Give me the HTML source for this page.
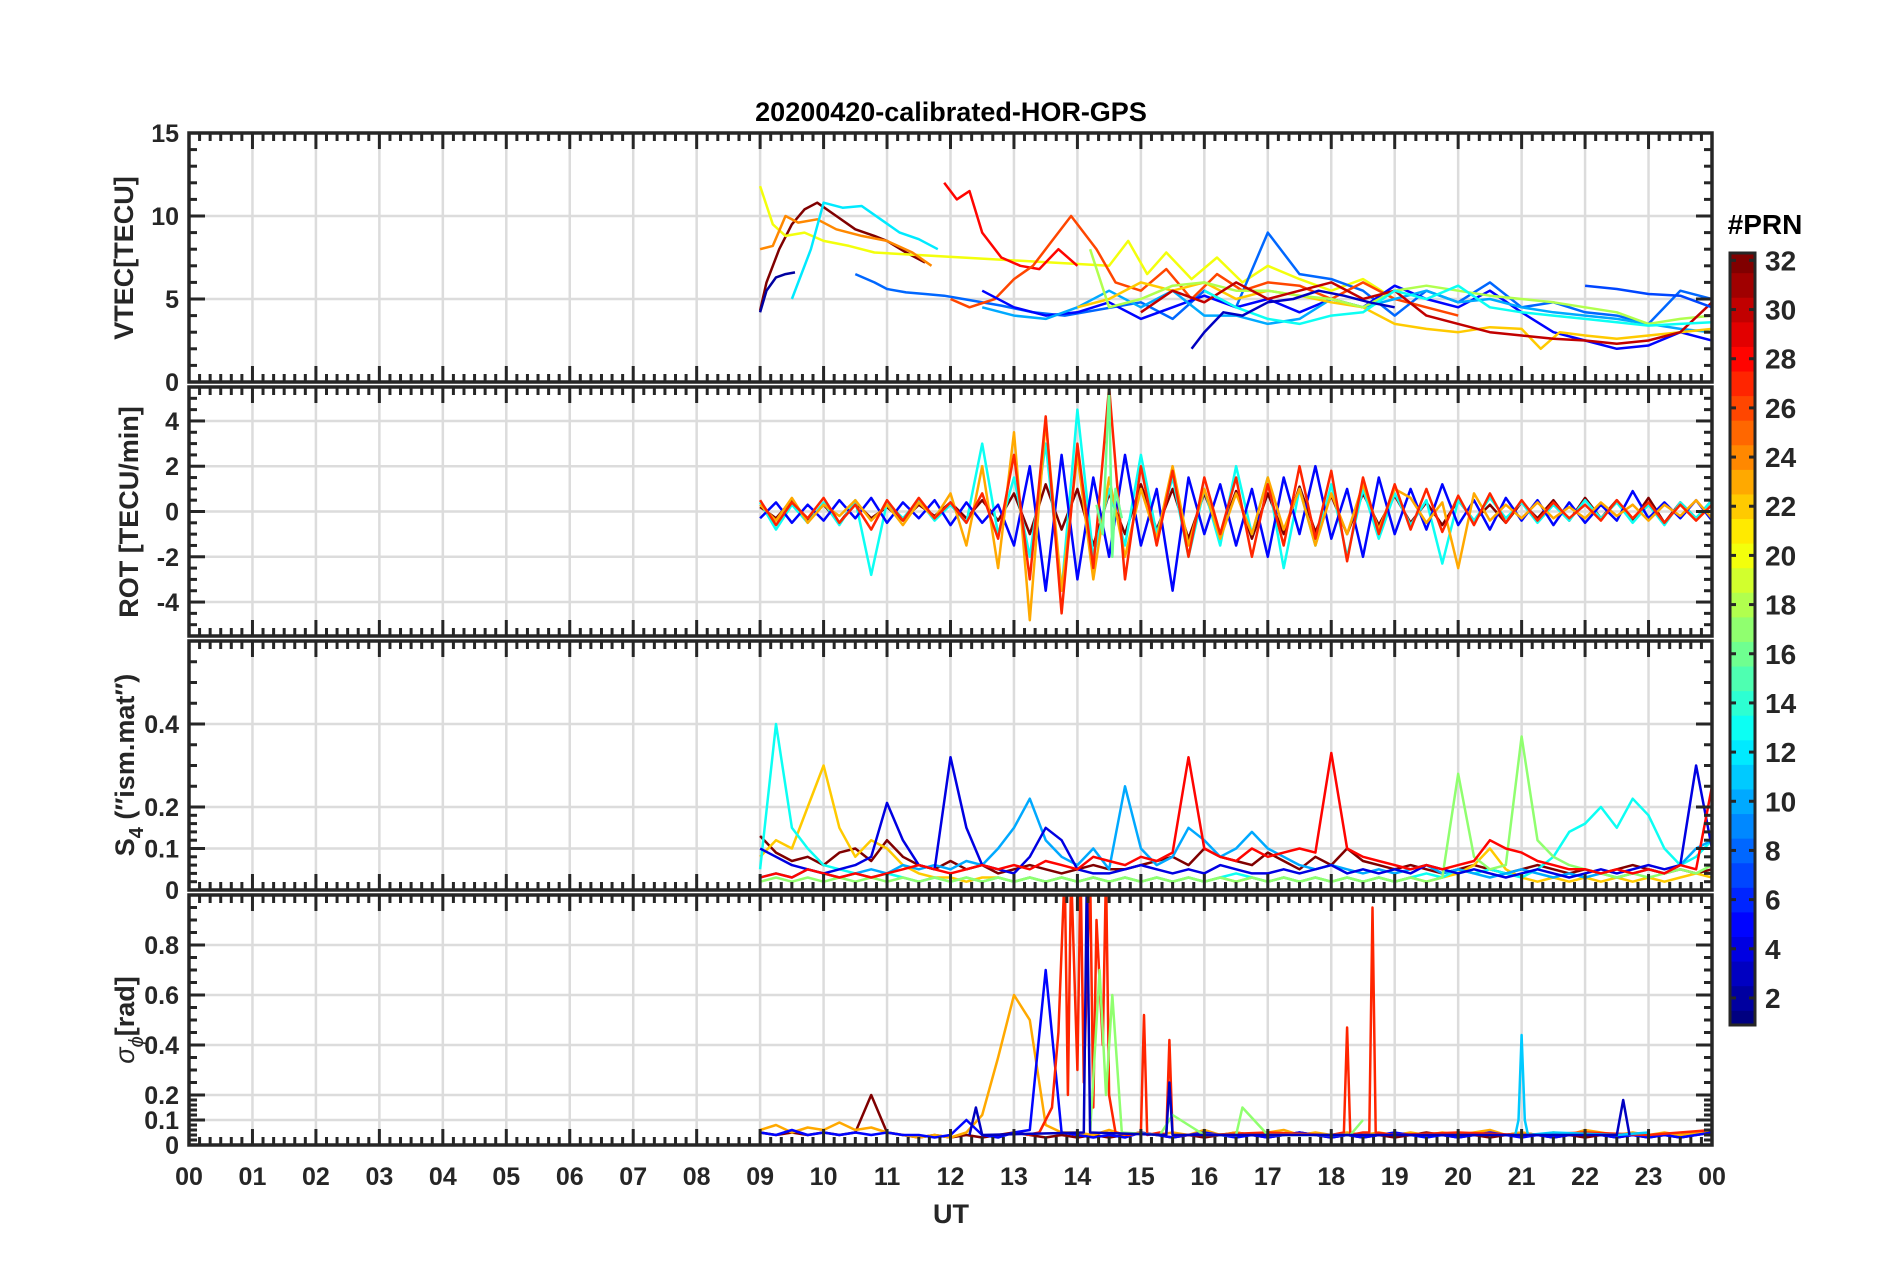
<!DOCTYPE html>
<html><head><meta charset="utf-8">
<style>
html,body{margin:0;padding:0;background:#fff;}
svg{display:block;}
text{font-family:"Liberation Sans",Arial,sans-serif;font-weight:bold;fill:#262626;}
</style></head>
<body>
<svg id="fig" width="1902" height="1272" viewBox="0 0 1902 1272" xmlns="http://www.w3.org/2000/svg">
<rect x="0" y="0" width="1902" height="1272" fill="#fff"/>
<text x="951" y="121" font-size="27" text-anchor="middle" style="fill:#000">20200420-calibrated-HOR-GPS</text>
<text x="951" y="1223" font-size="27" text-anchor="middle">UT</text>
<g id="layer"></g>
</svg>
<script>
// ---------- data ----------
const hourLabels = ["00","01","02","03","04","05","06","07","08","09","10","11","12","13","14","15","16","17","18","19","20","21","22","23","00"];
const colorbarLabels = [2,4,6,8,10,12,14,16,18,20,22,24,26,28,30,32];

// VTEC series (time in UT hours, value in TECU)
const vtecPrn = [32,20,24,12,2,8,28,26,5,10,22,18,30,7,13,3];
const vtecT32 = [9.0,9.1,9.3,9.5,9.7,9.9,10.2,10.5,10.8,11.0,11.3,11.6];
const vtecV32 = [4.3,6.0,8.0,9.5,10.4,10.8,10.0,9.2,8.8,8.5,7.8,7.2];
const vtecT20 = [9.0,9.2,9.4,9.7,10.0,10.4,10.8,14.5,14.8,15.1,15.4,15.8,16.2,16.6,17.0,17.5,18.0,18.5,19.0];
const vtecV20 = [11.8,9.5,8.8,9.0,8.5,8.2,7.8,7.0,8.5,6.5,7.8,6.2,7.5,6.0,7.0,6.2,5.5,6.2,5.0];
const vtecT24 = [9.0,9.2,9.4,9.6,9.9,10.2,10.6,11.0,11.4,11.7];
const vtecV24 = [8.0,8.2,10.0,9.6,9.8,9.2,8.8,8.5,7.8,7.0];
const vtecT12 = [9.5,9.8,10.0,10.3,10.6,10.9,11.2,11.5,11.8];
const vtecV12 = [5.0,8.0,10.8,10.5,10.6,9.8,9.0,8.6,8.0];
const vtecT2 = [9.0,9.1,9.25,9.4,9.55];
const vtecV2 = [4.2,5.5,6.3,6.5,6.6];
const vtecT8 = [10.5,10.8,11.0,11.3,11.6,11.9,12.2,12.8,13.3,13.8,15.0,15.5,16.0,16.5,17.0,17.5,18.0,18.5,19.0,19.5,20.0,20.5,21.0,21.5,22.0,22.5,23.0,23.5,24.0];
const vtecV8 = [6.5,6.0,5.6,5.4,5.3,5.2,5.0,4.6,4.2,4.0,4.8,3.8,5.5,4.5,9.0,6.5,6.2,5.5,4.0,5.5,4.8,6.0,4.5,4.8,4.2,4.0,3.5,5.5,5.0];
const vtecT28 = [11.9,12.1,12.3,12.5,12.8,13.1,13.4,13.7,14.0];
const vtecV28 = [12.0,11.0,11.5,9.0,7.5,7.0,6.8,8.0,7.0];
const vtecT26 = [12.0,12.3,12.7,13.0,13.3,13.6,13.9,14.3,14.6,15.0,15.4,15.8,16.2,16.6,17.0,17.5,18.0,18.5,19.0,19.5,20.0];
const vtecV26 = [5.0,4.5,5.0,6.2,7.0,8.5,10.0,8.0,6.0,5.5,6.8,5.0,6.5,5.5,6.0,5.8,5.0,6.0,5.0,4.5,4.0];
const vtecT5 = [12.5,13.0,13.5,14.0,14.5,15.0,15.5,16.0,16.5,17.0,17.5,18.0,18.5,19.0,19.5,20.0,20.5,21.0,21.5,22.0,22.5,23.0,23.5,24.0];
const vtecV5 = [5.5,4.5,4.0,4.2,4.8,3.8,4.5,5.2,4.5,5.0,4.2,5.0,4.5,5.8,5.0,4.5,5.5,4.2,3.0,2.5,2.0,2.2,3.0,2.5];
const vtecT10 = [12.5,13.0,13.5,14.0,14.5,15.0,15.5,16.0,16.5,17.0,17.5,18.0,18.5,19.0,19.5,20.0,20.5,21.0,21.5,22.0,22.5,23.0,23.5,24.0];
const vtecV10 = [4.5,4.0,3.8,4.5,5.5,4.5,5.5,4.0,4.0,3.5,3.8,5.0,4.5,5.0,5.5,4.8,5.0,4.5,4.2,4.0,3.8,3.5,3.2,3.0];
const vtecT22 = [14.0,14.5,15.0,15.5,16.0,16.5,17.0,17.5,18.0,18.5,19.0,19.5,20.0,20.5,21.0,21.3,21.6,22.0,22.5,23.0,23.5,24.0];
const vtecV22 = [4.5,5.0,6.0,5.5,6.0,5.0,5.5,5.2,4.8,4.5,3.5,3.2,3.0,3.3,3.2,2.0,3.0,2.8,2.6,2.8,3.0,3.2];
const vtecT18 = [14.2,14.5,15.0,15.5,16.0,16.5,17.0,17.5,18.0,18.5,19.0,19.5,20.0,20.5,21.0,21.5,22.0,22.5,23.0,23.5,24.0];
const vtecV18 = [8.0,4.5,5.0,5.8,6.0,5.5,5.5,5.2,5.0,4.5,5.5,5.8,5.5,5.2,5.0,4.8,4.5,4.2,3.5,3.8,4.0];
const vtecT30 = [15.0,15.5,16.0,16.5,17.0,17.5,18.0,18.5,19.0,19.5,20.0,20.5,21.0,21.5,22.0,22.5,23.0,23.5,24.0];
const vtecV30 = [4.2,5.5,4.8,6.0,5.0,5.5,6.0,5.0,5.5,4.0,3.5,3.0,2.8,2.6,2.5,2.3,2.5,3.0,4.8];
const vtecT7 = [22.0,22.5,23.0,23.5,24.0];
const vtecV7 = [5.8,5.6,5.3,5.2,4.5];
const vtecT13 = [16.0,16.5,17.0,17.5,18.0,18.5,19.0,19.5,20.0,20.5,21.0,21.5,22.0,22.5,23.0,23.5,24.0];
const vtecV13 = [5.5,4.5,3.8,3.5,4.0,4.2,5.5,5.0,5.8,4.5,4.2,4.0,3.8,3.6,3.4,3.5,3.6];
const vtecT3 = [15.8,16.0,16.3,16.6,17.0,17.4,17.8,18.2,18.6,19.0];
const vtecV3 = [2.0,3.0,4.2,4.0,4.8,5.0,5.5,5.2,4.8,4.5];

// ROT series, sampled every 0.25 h from 09 UT
const rotPrn = [32,13,5,23,27];
const rotStart = 9.0;
const rotStep = 0.25;
const rotV32 = [0.2,-0.3,0.5,-0.4,0.3,-0.5,0.4,-0.3,0.2,-0.4,0.3,-0.2,0.4,-0.3,0.5,-0.4,0.8,-1,1.2,-0.8,1,-1.5,0.8,-1,1.2,-0.8,1,-1.2,0.8,-1,0.9,-1.2,0.8,-1,1.1,-0.9,0.7,-1,0.8,-0.6,0.7,-0.5,0.4,-0.6,0.5,-0.4,0.3,-0.5,0.4,-0.3,0.5,-0.4,0.6,-0.3,0.5,-0.4,0.6,-0.5,0.4,-0.3,0.5];
const rotV13 = [0.4,-0.8,0.3,-0.5,0.4,-0.6,0.5,-2.8,0.4,-0.3,0.5,-0.4,0.3,-0.5,3,-1,1.5,-2,3,-3.5,4.5,-2,1,-1.5,2.5,-1,1.5,-2,1,-1.5,2,-1,1.5,-2.5,1,-1.5,1.2,-2,1,-1.2,0.8,-0.6,0.5,-2.3,0.5,-0.4,0.6,-0.3,0.4,-0.5,0.3,-0.4,0.5,-0.3,0.4,-0.5,0.3,-0.6,0.4,-0.3,0.5];
const rotV5 = [-0.3,0.4,-0.5,0.3,-0.4,0.5,-0.3,0.6,-0.5,0.4,-0.3,0.5,-0.6,0.4,-0.5,0.3,-1.5,2,-3.5,2.5,-3,1.5,-2,2.5,-1.5,1,-3.5,1.5,-1,1.2,-1.5,1,-2,1.5,-1,2,-1.2,1,-2,1.5,-1,1,-0.8,1.2,-0.6,0.5,-0.8,0.6,-0.4,0.5,-0.6,0.4,-0.5,0.3,-0.4,0.9,-0.3,0.4,-0.3,0.5,-0.4];
const rotV23 = [0.3,-0.4,0.6,-0.5,0.3,-0.2,0.5,-0.4,0.3,-0.6,0.4,-0.3,0.8,-1.5,2,-2.5,3.5,-4.8,4,-3.5,2.5,-3,1.5,-2,1,-1.2,2,-1.5,1,-1.2,0.8,-1,1.5,-0.8,1,-1.5,0.8,-1,1.2,-0.8,1,0.6,-0.5,0.4,-2.5,0.8,-0.4,0.3,-0.3,0.4,-0.3,0.2,-0.3,0.4,-0.2,0.3,-0.4,0.3,-0.2,0.5,-0.3];
const rotV27 = [0.5,-0.6,0.4,-0.3,0.6,-0.5,0.3,-0.8,0.5,-0.4,0.6,-0.3,0.4,-0.5,0.8,-1.2,2.5,-3,4.2,-4.5,3,-2.5,5.5,-3,2,-1.5,1.8,-2,1.5,-1,1.5,-2,1.2,-1.5,2,-1.2,1.8,-2.2,1.5,-1,1.2,-0.8,1,-0.9,0.7,-0.6,0.8,-0.5,0.5,-0.4,0.4,-0.3,0.3,-0.4,0.5,-0.3,0.4,-0.5,0.3,-0.4,0.3];
const rotT16 = [14.3,14.4,14.5,14.55,14.6,14.7];
const rotV16 = [0.3,-1.0,5.5,-2.0,1.0,-0.3];

// S4 series, sampled every 0.25 h from 09 UT
const s4Prn = [32,22,13,10,4,17,28];
const s4Start = 9.0;
const s4Step = 0.25;
const s4V32 = [0.13,0.09,0.07,0.08,0.06,0.09,0.1,0.07,0.12,0.08,0.06,0.05,0.07,0.05,0.06,0.04,0.05,0.06,0.05,0.04,0.05,0.06,0.05,0.05,0.06,0.07,0.08,0.06,0.1,0.08,0.07,0.06,0.09,0.07,0.05,0.08,0.06,0.1,0.07,0.06,0.05,0.06,0.05,0.04,0.05,0.06,0.05,0.04,0.05,0.06,0.05,0.04,0.05,0.04,0.05,0.06,0.05,0.04,0.05,0.04,0.05];
const s4V22 = [0.08,0.12,0.1,0.2,0.3,0.15,0.08,0.12,0.1,0.06,0.04,0.03,0.03,0.02,0.03,0.03,0.02,0.03,0.02,0.03,0.02,0.03,0.02,0.03,0.02,0.03,0.02,0.03,0.02,0.03,0.02,0.03,0.02,0.03,0.02,0.03,0.02,0.03,0.02,0.03,0.02,0.03,0.02,0.03,0.04,0.06,0.1,0.05,0.03,0.02,0.03,0.02,0.03,0.02,0.03,0.02,0.03,0.02,0.03,0.04,0.03];
const s4V13 = [0.05,0.4,0.15,0.1,0.06,0.05,0.04,0.03,0.04,0.03,0.02,0.03,0.02,0.03,0.02,0.03,0.02,0.03,0.02,0.03,0.02,0.03,0.02,0.03,0.02,0.03,0.02,0.03,0.02,0.03,0.04,0.03,0.02,0.03,0.02,0.03,0.02,0.03,0.02,0.03,0.02,0.03,0.04,0.03,0.05,0.04,0.05,0.04,0.03,0.05,0.08,0.14,0.16,0.2,0.15,0.22,0.18,0.1,0.06,0.08,0.12];
const s4V10 = [0.03,0.04,0.03,0.05,0.04,0.03,0.04,0.05,0.04,0.06,0.05,0.06,0.05,0.07,0.06,0.1,0.15,0.22,0.12,0.08,0.06,0.1,0.05,0.25,0.1,0.06,0.08,0.15,0.12,0.08,0.1,0.14,0.1,0.08,0.06,0.05,0.06,0.05,0.04,0.05,0.04,0.05,0.06,0.04,0.05,0.04,0.03,0.04,0.05,0.04,0.03,0.04,0.03,0.04,0.03,0.04,0.05,0.04,0.06,0.1,0.12];
const s4V4 = [0.1,0.08,0.06,0.05,0.04,0.05,0.06,0.08,0.21,0.12,0.06,0.05,0.32,0.15,0.06,0.05,0.04,0.08,0.15,0.12,0.05,0.04,0.04,0.05,0.06,0.05,0.04,0.05,0.04,0.06,0.05,0.04,0.04,0.05,0.04,0.05,0.06,0.04,0.05,0.04,0.05,0.04,0.06,0.05,0.04,0.05,0.04,0.03,0.04,0.05,0.04,0.03,0.04,0.05,0.04,0.05,0.06,0.05,0.06,0.3,0.1];
const s4V17 = [0.02,0.03,0.02,0.03,0.02,0.03,0.02,0.03,0.02,0.03,0.02,0.03,0.02,0.03,0.02,0.03,0.02,0.03,0.02,0.03,0.02,0.03,0.02,0.03,0.02,0.03,0.02,0.03,0.02,0.03,0.02,0.03,0.02,0.03,0.02,0.03,0.02,0.03,0.02,0.03,0.02,0.03,0.02,0.03,0.28,0.08,0.05,0.06,0.37,0.12,0.08,0.06,0.05,0.04,0.03,0.04,0.03,0.04,0.05,0.04,0.06];
const s4V28 = [0.03,0.04,0.03,0.05,0.04,0.03,0.04,0.03,0.04,0.05,0.06,0.05,0.04,0.05,0.06,0.05,0.06,0.05,0.07,0.06,0.05,0.08,0.07,0.06,0.08,0.07,0.09,0.32,0.1,0.08,0.07,0.1,0.08,0.09,0.1,0.09,0.33,0.1,0.08,0.07,0.06,0.05,0.06,0.05,0.06,0.07,0.12,0.1,0.09,0.07,0.06,0.05,0.05,0.04,0.05,0.04,0.05,0.04,0.06,0.05,0.25];

// Phase scintillation series
const sigPrn = [32,23,5,27,17,11,3];
const sigStart = 9.0;
const sigStep = 0.25;
const sigV32 = [0.05,0.04,0.05,0.04,0.05,0.04,0.05,0.2,0.05,0.04,0.03,0.04,0.03,0.04,0.03,0.04,0.05,0.04,0.03,0.04,0.03,0.04,0.03,0.04,0.05,0.04,0.03,0.04,0.03,0.04,0.05,0.04,0.03,0.04,0.05,0.04,0.03,0.04,0.03,0.04,0.03,0.04,0.05,0.04,0.03,0.04,0.03,0.04,0.05,0.04,0.03,0.04,0.03,0.04,0.03,0.04,0.03,0.04,0.03,0.04,0.05];
const sigV23 = [0.06,0.08,0.05,0.07,0.06,0.09,0.06,0.07,0.05,0.04,0.03,0.04,0.03,0.05,0.12,0.35,0.6,0.5,0.08,0.05,0.05,0.04,0.06,0.04,0.05,0.04,0.05,0.04,0.06,0.04,0.05,0.04,0.05,0.06,0.04,0.05,0.04,0.05,0.04,0.05,0.04,0.05,0.04,0.05,0.04,0.05,0.06,0.04,0.05,0.04,0.05,0.04,0.06,0.05,0.04,0.05,0.04,0.05,0.04,0.05,0.06];
const sigV5 = [0.05,0.04,0.06,0.04,0.05,0.04,0.05,0.04,0.05,0.04,0.04,0.03,0.04,0.1,0.04,0.03,0.05,0.06,0.7,0.05,0.04,0.03,0.04,0.03,0.05,0.04,0.03,0.04,0.05,0.04,0.03,0.04,0.03,0.04,0.05,0.04,0.03,0.04,0.03,0.04,0.05,0.04,0.03,0.04,0.03,0.04,0.05,0.04,0.03,0.04,0.03,0.04,0.05,0.04,0.03,0.04,0.03,0.04,0.03,0.04,0.05];
const sigT27 = [13.2,13.4,13.6,13.7,13.8,13.85,13.9,14.0,14.05,14.1,14.2,14.25,14.3,14.4,14.45,14.5,14.6,14.8,15.0,15.05,15.1,15.3,15.4,15.45,15.5,16.0,17.0,18.0,18.2,18.25,18.3,18.5,18.6,18.65,18.7,19.0,20.0,21.0,22.0,23.0,24.0];
const sigV27 = [0.04,0.05,0.15,0.45,1.1,0.2,1.1,0.3,1.1,0.25,1.1,0.15,0.9,0.4,1.1,0.2,0.05,0.04,0.05,0.52,0.04,0.05,0.04,0.42,0.04,0.04,0.05,0.04,0.05,0.47,0.04,0.05,0.05,0.95,0.05,0.04,0.05,0.04,0.05,0.04,0.06];
const sigT17 = [14.2,14.35,14.45,14.55,14.7,15.3,15.5,16.0,16.5,16.6,17.0,18.3,18.5];
const sigV17 = [0.05,0.7,0.2,0.6,0.05,0.04,0.12,0.04,0.04,0.15,0.04,0.04,0.1];
const sigT11 = [20.9,20.95,21.0,21.05,21.1,21.5,22.5,23.0];
const sigV11 = [0.04,0.1,0.44,0.1,0.04,0.05,0.04,0.05];
const sigT3 = [12.3,12.4,12.5,14.1,14.15,14.2,15.4,15.45,15.5,22.5,22.6,22.7];
const sigV3 = [0.04,0.15,0.04,0.05,1.1,0.05,0.04,0.25,0.04,0.04,0.18,0.04];

// ---------- layout ----------
const NS = "http://www.w3.org/2000/svg";
const layer = document.getElementById('layer');
const X0 = 189, X1 = 1712;
const panels = [
  {key:'vtec', top:133, bot:382, min:0, max:15, labels:[0,5,10,15], grid:[5,10], minor:[1,2,3,4,6,7,8,9,11,12,13,14]},
  {key:'rot', top:387, bot:636, min:-5.5, max:5.5, labels:[-4,-2,0,2,4], grid:[-4,-2,0,2,4], minor:[-5,-4.5,-3.5,-3,-2.5,-1.5,-1,-0.5,0.5,1,1.5,2.5,3,3.5,4.5,5]},
  {key:'s4', top:641, bot:890, min:0, max:0.6, labels:[0,0.1,0.2,0.4], grid:[0.1,0.2,0.4], minor:[0.02,0.04,0.06,0.08,0.12,0.14,0.16,0.18,0.25,0.3,0.35,0.45,0.5,0.55]},
  {key:'sig', top:895, bot:1145, min:0, max:1.0, labels:[0,0.1,0.2,0.4,0.6,0.8], grid:[0.1,0.2,0.4,0.6,0.8], minor:[0.02,0.04,0.06,0.08,0.12,0.14,0.16,0.18,0.25,0.3,0.35,0.45,0.5,0.55,0.65,0.7,0.75,0.85,0.9,0.95]}
];
function xs(t){ return X0 + (t/24)*(X1-X0); }
function ysFor(p){ return v => p.bot - (v-p.min)/(p.max-p.min)*(p.bot-p.top); }
function jet(prn){
  const x=(prn-1)/31;
  const c=v=>Math.round(255*Math.max(0,Math.min(1,v)));
  return `rgb(${c(1.5-Math.abs(4*x-3))},${c(1.5-Math.abs(4*x-2))},${c(1.5-Math.abs(4*x-1))})`;
}
function mk(tag, attrs, parent){
  const e=document.createElementNS(NS,tag);
  for(const k in attrs) e.setAttribute(k,attrs[k]);
  (parent||layer).appendChild(e);
  return e;
}
function line(x1,y1,x2,y2,stroke,w,parent){ return mk('line',{x1,y1,x2,y2,stroke,'stroke-width':w},parent); }

const defs = mk('defs',{});
panels.forEach((p,i)=>{
  const cp = mk('clipPath',{id:'clip'+i},defs);
  mk('rect',{x:X0,y:p.top,width:X1-X0,height:p.bot-p.top},cp);
});

function drawSeries(pi, ts, vs, prn, name){
  const p=panels[pi], ys=ysFor(p);
  const d=ts.map((t,k)=>(k?'L':'M')+xs(t).toFixed(1)+' '+ys(vs[k]).toFixed(1)).join(' ');
  const path=mk('path',{d, fill:'none', stroke:jet(prn), 'stroke-width':2.5, 'stroke-linejoin':'round', 'clip-path':`url(#clip${pi})`});
  
  
}
function gridTimes(start, step, n){ const a=[]; for(let k=0;k<n;k++) a.push(start+k*step); return a; }

panels.forEach((p,i)=>{
  const ys=ysFor(p);
  const g=mk('g',{});
  
  
  for(let h=1;h<24;h++) line(xs(h),p.top,xs(h),p.bot,'#dcdcdc',2.5,g);
  p.grid.forEach(v=>line(X0,ys(v),X1,ys(v),'#dcdcdc',2.5,g));
});

// series
const vtecSets=[[vtecT32,vtecV32],[vtecT20,vtecV20],[vtecT24,vtecV24],[vtecT12,vtecV12],[vtecT2,vtecV2],[vtecT8,vtecV8],[vtecT28,vtecV28],[vtecT26,vtecV26],[vtecT5,vtecV5],[vtecT10,vtecV10],[vtecT22,vtecV22],[vtecT18,vtecV18],[vtecT30,vtecV30],[vtecT7,vtecV7],[vtecT13,vtecV13],[vtecT3,vtecV3]];
vtecSets.forEach((s,k)=>drawSeries(0,s[0],s[1],vtecPrn[k],'vtec-line-prn'+vtecPrn[k]));
[rotV32,rotV13,rotV5,rotV23,rotV27].forEach((v,k)=>drawSeries(1,gridTimes(rotStart,rotStep,v.length),v,rotPrn[k],'rot-line-prn'+rotPrn[k]));
drawSeries(1,rotT16,rotV16,16,'rot-line-prn16');
[s4V32,s4V22,s4V13,s4V10,s4V4,s4V17,s4V28].forEach((v,k)=>drawSeries(2,gridTimes(s4Start,s4Step,v.length),v,s4Prn[k],'s4-line-prn'+s4Prn[k]));
[sigV32,sigV23,sigV5].forEach((v,k)=>drawSeries(3,gridTimes(sigStart,sigStep,v.length),v,sigPrn[k],'sigma-line-prn'+sigPrn[k]));
drawSeries(3,sigT27,sigV27,27,'sigma-line-prn27');
drawSeries(3,sigT17,sigV17,17,'sigma-line-prn17');
drawSeries(3,sigT11,sigV11,11,'sigma-line-prn11');
drawSeries(3,sigT3,sigV3,3,'sigma-line-prn3');

// axes, ticks, labels
const AX='#262626';
panels.forEach((p,i)=>{
  const ys=ysFor(p);
  const g=mk('g',{});
  
  
  for(let m=0;m<=24*6;m++){
    const x=xs(m/6), L=(m%6===0)?16:8;
    line(x,p.top,x,p.top+L,AX,3,g);
    line(x,p.bot,x,p.bot-L,AX,3,g);
  }
  p.labels.forEach(v=>{
    line(X0,ys(v),X0+16,ys(v),AX,3,g);
    line(X1,ys(v),X1-16,ys(v),AX,3,g);
    const t=mk('text',{x:X0-10,y:ys(v)+9,'font-size':25,'text-anchor':'end'},g);
    t.textContent=String(v);
    
    
  });
  p.minor.forEach(v=>{
    line(X0,ys(v),X0+8,ys(v),AX,3,g);
    line(X1,ys(v),X1-8,ys(v),AX,3,g);
  });
  mk('rect',{x:X0,y:p.top,width:X1-X0,height:p.bot-p.top,fill:'none',stroke:AX,'stroke-width':3.5},g);
});
hourLabels.forEach((s,h)=>{
  const t=mk('text',{x:xs(h),y:1185,'font-size':25,'text-anchor':'middle'});
  t.textContent=s;
  
  
});

// y-axis titles
function ytitle(cx,cy,name,build){
  const t=mk('text',{x:0,y:0,'font-size':27,'text-anchor':'middle',transform:`translate(${cx},${cy}) rotate(-90)`});
  
  
  build(t);
}
ytitle(133,258,'vtec-axis-title',t=>{t.textContent='VTEC[TECU]';});
ytitle(138,512,'rot-axis-title',t=>{t.textContent='ROT [TECU/min]';});
ytitle(134,765,'s4-axis-title',t=>{
  const a=mk('tspan',{},t); a.textContent='S';
  const b=mk('tspan',{dy:9,'font-size':20},t); b.textContent='4';
  const c=mk('tspan',{dy:-9},t); c.textContent=' (\u2033ism.mat\u2033)';
});
ytitle(134,1020,'sigma-axis-title',t=>{
  const a=mk('tspan',{'font-style':'italic','font-weight':'normal'},t); a.textContent='\u03c3';
  const b=mk('tspan',{dy:9,'font-size':20,'font-style':'italic','font-weight':'normal'},t); b.textContent='\u03d5';
  const c=mk('tspan',{dy:-9},t); c.textContent='[rad]';
});

// colorbar
const CB={x:1730,w:25,top:253,bot:1025,min:0.9,max:32.3};
const cbY=v=>CB.bot-(v-CB.min)/(CB.max-CB.min)*(CB.bot-CB.top);
const cbg=mk('g',{});


for(let k=1;k<=32;k++){
  const y1=cbY(k+0.5), y0=cbY(k-0.5);
  mk('rect',{x:CB.x,y:Math.max(CB.top,y1),width:CB.w,height:Math.min(CB.bot,y0)-Math.max(CB.top,y1)+0.5,fill:jet(k)},cbg);
}
colorbarLabels.forEach(v=>{
  line(CB.x,cbY(v),CB.x+6,cbY(v),AX,3,cbg);
  line(CB.x+CB.w,cbY(v),CB.x+CB.w-6,cbY(v),AX,3,cbg);
  const t=mk('text',{x:1765,y:cbY(v)+10,'font-size':28,'font-family':'DejaVu Sans'},cbg);
  t.textContent=String(v);
  
  
});
mk('rect',{x:CB.x,y:CB.top,width:CB.w,height:CB.bot-CB.top,fill:'none',stroke:AX,'stroke-width':3},cbg);
const cbt=mk('text',{x:1765,y:234,'font-size':28,'text-anchor':'middle',style:'fill:#000'},cbg);
cbt.textContent='#PRN';


</script>
</body></html>
